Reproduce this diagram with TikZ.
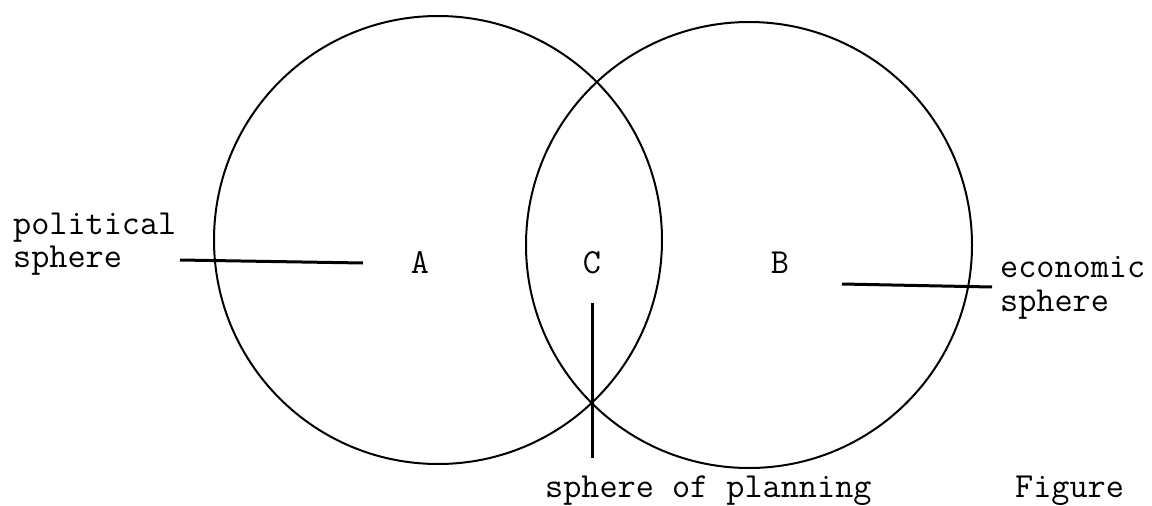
\documentclass[tikz,border=0pt]{standalone}
\usepackage{fontspec}
\begin{document}
\begin{tikzpicture}[x=1pt,y=-1pt,
  txt/.style={font=\ttfamily\fontsize{35.2}{38}\selectfont, inner sep=0pt, anchor=base west},
  lbl/.style={font=\ttfamily\fontsize{35.2}{38}\selectfont, inner sep=0pt, anchor=base},
  ring/.style={draw, circle, line width=2pt, inner sep=0pt},
  lead/.style={line width=3pt}]
\useasboundingbox (0,0) rectangle (1152,506);
\node[ring, minimum size=448pt] (L) at (438,240) {};
\node[ring, minimum size=446pt] (R) at (749,245) {};
\node[txt] (pol1) at (13,234) {political};
\node[txt] (pol2) at (13,267) {sphere};
\node[lbl] (A) at (420,273) {A};
\node[lbl] (C) at (592,273) {C};
\node[lbl] (B) at (780,273) {B};
\node[txt] (eco1) at (1000,277) {economic};
\node[txt] (eco2) at (1000,311) {sphere};
\node[txt] (plan) at (545,497) {sphere of planning};
\node[txt] (fig) at (1015,497) {Figure};
\coordinate (p0) at (180,260);
\coordinate (p1) at (363,263);
\coordinate (e0) at (842,284);
\coordinate (e1) at (992,287);
\coordinate (v0) at (592,303);
\coordinate (v1) at (592,458);
\draw[lead] (p0) -- (p1);
\draw[lead] (e0) -- (e1);
\draw[lead] (v0) -- (v1);
\end{tikzpicture}
\end{document}
